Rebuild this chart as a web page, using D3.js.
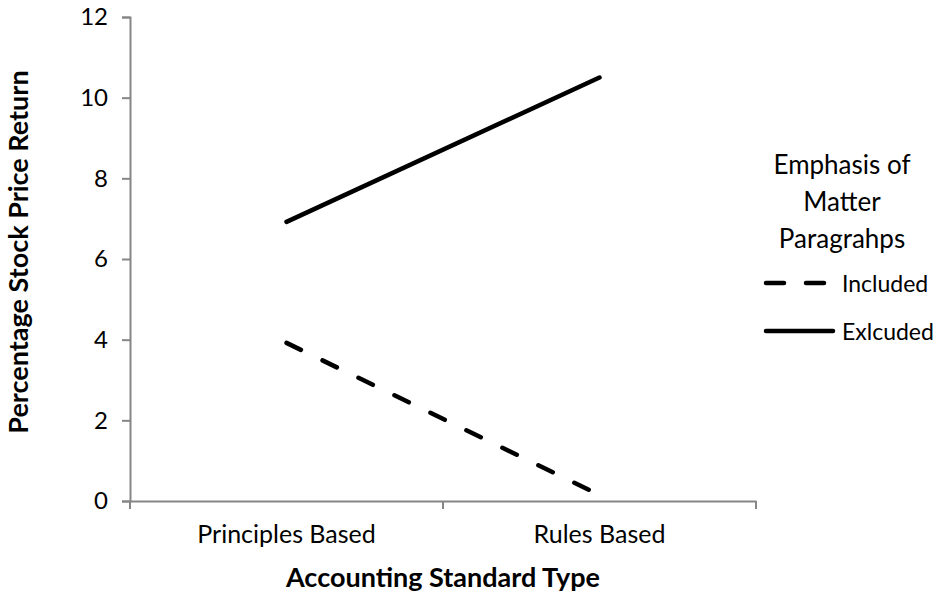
<!DOCTYPE html>
<html lang="en">
<head>
<meta charset="UTF-8">
<title>Stock Price Return by Accounting Standard Type</title>
<script src="https://d3js.org/d3.v7.min.js"></script>
<style>
    body { margin: 0; padding: 0; background: #fff; }
    svg { display: block; font-family: Lato, "Open Sans", sans-serif; }
</style>
</head>
<body>
<div id="wrapper"></div>
<script>
// data
const categories = ["Principles Based", "Rules Based"]
const seriesNames = ["Included", "Exlcuded"]
const includedValues = [3.92, 0.15]
const excludedValues = [6.92, 10.5]
const yTicks = [0, 2, 4, 6, 8, 10, 12]
const legendTitle = ["Emphasis of", "Matter", "Paragrahps"]

const series = [
    { name: seriesNames[0], values: includedValues, dash: "16,24" },
    { name: seriesNames[1], values: excludedValues, dash: null },
]

// dimensions
const dimensions = {
    width: 942,
    height: 594,
    margin: { top: 17, right: 186, bottom: 93, left: 130 },
}
dimensions.boundedWidth = dimensions.width - dimensions.margin.left - dimensions.margin.right
dimensions.boundedHeight = dimensions.height - dimensions.margin.top - dimensions.margin.bottom

const wrapper = d3.select("#wrapper")
    .append("svg")
        .attr("width", dimensions.width)
        .attr("height", dimensions.height)

const bounds = wrapper.append("g")
    .attr("transform", `translate(${dimensions.margin.left},${dimensions.margin.top})`)

// scales
const xScale = d3.scaleBand()
    .domain(categories)
    .range([0, dimensions.boundedWidth])

const yScale = d3.scaleLinear()
    .domain([0, 12])
    .range([dimensions.boundedHeight, 0])

const axisColor = "#868686"

// y axis
const yAxis = bounds.append("g")
    .call(d3.axisLeft(yScale).tickValues(yTicks).tickSize(8).tickPadding(14))
yAxis.select(".domain").attr("stroke", axisColor).attr("stroke-width", 2)
yAxis.selectAll(".tick line").attr("stroke", axisColor).attr("stroke-width", 2)
yAxis.selectAll(".tick text")
    .attr("fill", "#000")
    .style("font-size", "24px")
    .style("font-family", "Lato, sans-serif")

// x axis
const xAxis = bounds.append("g")
    .attr("transform", `translate(0,${dimensions.boundedHeight})`)
    .call(d3.axisBottom(xScale).tickSize(0).tickPadding(24))
xAxis.select(".domain").attr("stroke", axisColor).attr("stroke-width", 2)
xAxis.selectAll(".tick text")
    .attr("fill", "#000")
    .style("font-size", "25px")
    .style("font-family", "Lato, sans-serif")

// category boundary ticks
const boundaries = [0, ...categories.map(c => xScale(c) + xScale.bandwidth())]
bounds.append("g")
    .selectAll("line")
    .data(boundaries)
    .join("line")
        .attr("x1", d => d)
        .attr("x2", d => d)
        .attr("y1", dimensions.boundedHeight)
        .attr("y2", dimensions.boundedHeight + 8)
        .attr("stroke", axisColor)
        .attr("stroke-width", 2)

// lines
const lineGenerator = d3.line()
    .x((d, i) => xScale(categories[i]) + xScale.bandwidth() / 2)
    .y(d => yScale(d))

bounds.selectAll(".series")
    .data(series)
    .join("path")
        .attr("class", "series")
        .attr("d", d => lineGenerator(d.values))
        .attr("fill", "none")
        .attr("stroke", "#000")
        .attr("stroke-width", 4.5)
        .attr("stroke-linecap", "round")
        .attr("stroke-dasharray", d => d.dash)

// axis titles
wrapper.append("text")
    .attr("x", dimensions.margin.left + dimensions.boundedWidth / 2)
    .attr("y", 587)
    .attr("text-anchor", "middle")
    .style("font-size", "27px")
    .style("font-weight", "bold")
    .text("Accounting Standard Type")

wrapper.append("text")
    .attr("transform", `translate(28,${252}) rotate(-90)`)
    .attr("text-anchor", "middle")
    .style("font-size", "27px")
    .style("font-weight", "bold")
    .text("Percentage Stock Price Return")

// legend
const legend = wrapper.append("g")
legend.selectAll(".legend-title")
    .data(legendTitle)
    .join("text")
        .attr("class", "legend-title")
        .attr("x", 842)
        .attr("y", (d, i) => 174 + i * 37)
        .attr("text-anchor", "middle")
        .style("font-size", "26px")
        .text(d => d)

const legendItems = legend.selectAll(".legend-item")
    .data(series)
    .join("g")
        .attr("class", "legend-item")
        .attr("transform", (d, i) => `translate(0,${283 + i * 48})`)

legendItems.append("line")
    .attr("x1", 766)
    .attr("x2", d => d.dash ? 826 : 833)
    .attr("y1", 0)
    .attr("y2", 0)
    .attr("stroke", "#000")
    .attr("stroke-width", 4.5)
    .attr("stroke-linecap", "round")
    .attr("stroke-dasharray", d => d.dash ? "18,22" : null)

legendItems.append("text")
    .attr("x", 842)
    .attr("y", 9)
    .style("font-size", "23px")
    .text(d => d.name)
</script>
</body>
</html>
